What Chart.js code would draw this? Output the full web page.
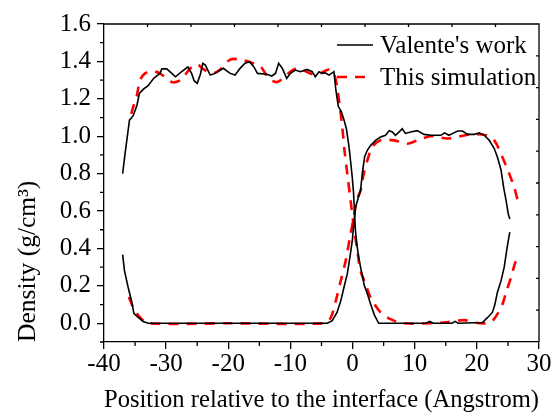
<!DOCTYPE html>
<html>
<head>
<meta charset="utf-8">
<script src="https://cdn.jsdelivr.net/npm/chart.js@4.4.1/dist/chart.umd.min.js"></script>
<style>
  html, body { margin: 0; padding: 0; background: #fff; }
  #wrap { width: 552px; height: 416px; }
</style>
</head>
<body>
<div id="wrap"><canvas id="diagram"></canvas></div>
<script>
// ---------- DATA ----------
// Valente's work, dense profile (starts high on the left, drops at the interface)
const valenteUpperX = [-37.0, -36.6, -35.9, -35.3, -34.7, -34.3, -33.7, -32.9, -32.0, -31.0, -30.7, -29.9, -29.4, -28.5, -27.5, -26.5, -25.9, -25.5, -25.0, -24.5, -24.1, -23.7, -23.3, -22.9, -22.1, -20.8, -19.7, -18.9, -18.1, -17.3, -16.6, -15.9, -15.3, -13.8, -13.0, -12.4, -11.9, -11.3, -10.6, -10.0, -9.2, -8.4, -7.3, -6.5, -6.0, -5.4, -4.9, -4.4, -3.8, -3.0, -2.7, -2.3, -1.8, -1.4, -1.0, -0.6, -0.3, -0.05, 0.15, 0.3, 0.45, 0.7, 1.0, 1.4, 1.9, 2.4, 2.9, 3.5, 4.2, 8.0, 11.8, 12.4, 13.0, 16.0, 16.5, 17.0, 20.9, 21.7, 22.5, 22.9, 23.3, 23.9, 24.4, 24.8, 25.05, 25.3];
const valenteUpperY = [0.80, 0.91, 1.086, 1.11, 1.166, 1.229, 1.25, 1.27, 1.31, 1.336, 1.36, 1.36, 1.345, 1.318, 1.345, 1.37, 1.336, 1.297, 1.283, 1.33, 1.39, 1.38, 1.354, 1.327, 1.336, 1.363, 1.336, 1.327, 1.363, 1.39, 1.398, 1.372, 1.336, 1.331, 1.322, 1.336, 1.39, 1.363, 1.309, 1.336, 1.354, 1.345, 1.357, 1.345, 1.318, 1.345, 1.336, 1.339, 1.327, 1.345, 1.25, 1.16, 1.13, 1.09, 1.04, 0.95, 0.86, 0.78, 0.70, 0.60, 0.50, 0.42, 0.35, 0.28, 0.20, 0.155, 0.103, 0.045, 0.0, 0.0, 0.0, 0.01, 0.0, 0.0, 0.01, 0.0, 0.004, 0.03, 0.058, 0.10, 0.165, 0.228, 0.30, 0.39, 0.44, 0.487];
// Valente's work, light profile (starts low on the left, rises at the interface)
const valenteLowerX = [-37.0, -36.7, -36.1, -35.5, -35.2, -34.5, -33.7, -32.9, -20.0, -4.1, -3.3, -2.5, -1.9, -1.4, -0.85, -0.43, -0.05, 0.2, 0.48, 0.9, 1.29, 1.56, 1.94, 2.37, 2.9, 3.7, 4.5, 5.3, 5.9, 6.4, 6.9, 7.5, 8.0, 8.5, 9.35, 10.4, 11.5, 12.6, 14.2, 14.8, 15.5, 16.3, 16.9, 17.7, 18.5, 19.6, 20.4, 21.2, 22.0, 22.8, 23.3, 23.9, 24.3, 24.7, 25.05, 25.3];
const valenteLowerY = [0.367, 0.28, 0.19, 0.11, 0.053, 0.031, 0.01, 0.0, 0.0, 0.0, 0.013, 0.058, 0.12, 0.19, 0.264, 0.353, 0.44, 0.53, 0.62, 0.67, 0.71, 0.80, 0.89, 0.925, 0.95, 0.978, 0.996, 1.005, 1.03, 1.023, 1.005, 1.023, 1.04, 1.015, 1.023, 1.03, 1.01, 1.005, 1.005, 1.018, 1.005, 1.018, 1.028, 1.028, 1.01, 1.01, 1.018, 1.005, 0.978, 0.934, 0.889, 0.818, 0.728, 0.657, 0.585, 0.558];
// This simulation, dense profile
const simUpperX = [-35.6, -35.3, -34.7, -34.2, -33.4, -32.3, -31.0, -29.1, -27.7, -26.1, -25.0, -24.2, -22.6, -21.3, -19.7, -18.1, -16.7, -14.8, -13.5, -12.1, -10.0, -8.9, -6.8, -5.7, -3.8, -3.0, -2.5, -2.05, -1.66, -1.3, -0.85, -0.32, 0.2, 0.76, 1.29, 2.1, 2.9, 4.5, 6.1, 8.3, 12.6, 14.7, 18.0, 19.6, 21.5, 22.5, 23.3, 24.1, 24.7, 25.5, 26.1, 26.6];
const simUpperY = [1.12, 1.157, 1.22, 1.30, 1.336, 1.348, 1.336, 1.29, 1.30, 1.363, 1.386, 1.363, 1.336, 1.357, 1.41, 1.41, 1.398, 1.372, 1.309, 1.29, 1.345, 1.363, 1.336, 1.33, 1.357, 1.336, 1.264, 1.157, 1.05, 0.925, 0.80, 0.657, 0.514, 0.39, 0.28, 0.21, 0.138, 0.058, 0.022, 0.0, 0.0, 0.004, 0.017, 0.004, 0.0, 0.013, 0.049, 0.10, 0.165, 0.246, 0.317, 0.36];
// This simulation, light profile
const simLowerX = [-36.0, -35.3, -34.2, -32.9, -20.0, -4.6, -3.5, -2.7, -1.9, -1.1, -0.43, 0.2, 0.65, 1.29, 1.8, 2.37, 3.2, 4.5, 6.7, 8.8, 10.4, 12.6, 15.3, 19.0, 21.5, 22.8, 24.1, 25.2, 26.0, 26.7];
const simLowerY = [0.14, 0.085, 0.031, 0.0, 0.0, 0.0, 0.031, 0.12, 0.228, 0.335, 0.46, 0.567, 0.657, 0.71, 0.80, 0.87, 0.943, 0.978, 0.978, 0.96, 0.978, 1.0, 0.988, 1.01, 1.005, 0.978, 0.889, 0.80, 0.728, 0.64];

// axis ticks
const xTicks = [-40, -30, -20, -10, 0, 10, 20, 30];
const xMinorTicks = [-35, -25, -15, -5, 5, 15, 25];
const yTicks = [0.0, 0.2, 0.4, 0.6, 0.8, 1.0, 1.2, 1.4, 1.6];
const yMinorTicks = [-0.1, 0.1, 0.3, 0.5, 0.7, 0.9, 1.1, 1.3, 1.5];
// top / right mirror axes have ten equal divisions
const xTopTicks = [-33, -26, -19, -12, -5, 2, 9, 16, 23];
const yRightTicks = [0.07, 0.24, 0.41, 0.58, 0.75, 0.92, 1.09, 1.26, 1.43];

const toPoints = (xs, ys) => xs.map((x, i) => ({ x, y: ys[i] }));

const SERIF = '"Liberation Serif", "Times New Roman", serif';

// draws the box, minor ticks, inner mirror ticks and the legend inside the plot
const framePlugin = {
  id: 'frame',
  afterDraw(chart) {
    const { ctx, chartArea: a, scales } = chart;
    const x = scales.x, y = scales.y;
    ctx.save();
    ctx.strokeStyle = '#000';
    ctx.lineWidth = 1.3;
    ctx.beginPath();
    // top + right border
    ctx.moveTo(a.left, a.top); ctx.lineTo(a.right, a.top); ctx.lineTo(a.right, a.bottom);
    // minor ticks (outside)
    xMinorTicks.forEach(v => { const p = x.getPixelForValue(v); ctx.moveTo(p, a.bottom); ctx.lineTo(p, a.bottom + 4); });
    yMinorTicks.forEach(v => { const p = y.getPixelForValue(v); ctx.moveTo(a.left, p); ctx.lineTo(a.left - 4, p); });
    // mirror ticks (inside)
    xTopTicks.forEach(v => { const p = x.getPixelForValue(v); ctx.moveTo(p, a.top); ctx.lineTo(p, a.top + 3); });
    yRightTicks.forEach(v => { const p = y.getPixelForValue(v); ctx.moveTo(a.right, p); ctx.lineTo(a.right - 3, p); });
    ctx.stroke();

    // LEGEND
    ctx.font = '25px ' + SERIF;
    ctx.textBaseline = 'middle';
    ctx.fillStyle = '#000';
    const legendItems = chart.data.datasets.filter(d => d.label);
    legendItems.forEach((d, i) => {
      const ly = 45 + i * 32;
      ctx.strokeStyle = d.borderColor;
      ctx.lineWidth = d.borderWidth;
      ctx.setLineDash(d.borderDash || []);
      ctx.beginPath();
      ctx.moveTo(337, ly);
      ctx.lineTo(373, ly);
      ctx.stroke();
      ctx.setLineDash([]);
      ctx.fillText(d.label, 380, ly + 1);
    });
    ctx.restore();
  },
};

const black = { borderColor: '#000', borderWidth: 1.6, tension: 0 };
const red = { borderColor: '#ff0000', borderWidth: 2.6, borderDash: [10, 8], tension: 0.3 };

new Chart(document.getElementById('diagram'), {
  type: 'scatter',
  plugins: [framePlugin],
  data: {
    datasets: [
      { label: "Valente's work", data: toPoints(valenteUpperX, valenteUpperY), ...black },
      { data: toPoints(valenteLowerX, valenteLowerY), ...black },
      { label: 'This simulation', data: toPoints(simUpperX, simUpperY), ...red },
      { data: toPoints(simLowerX, simLowerY), ...red },
    ],
  },
  options: {
    responsive: true,
    maintainAspectRatio: false,
    animation: false,
    showLine: true,
    elements: { point: { radius: 0, hoverRadius: 0 } },
    layout: { padding: { top: 24, right: 13, left: 0, bottom: 0 } },
    plugins: { legend: { display: false }, tooltip: { enabled: false } },
    scales: {
      x: {
        type: 'linear',
        min: -40,
        max: 30,
        afterBuildTicks: s => { s.ticks = xTicks.map(value => ({ value })); },
        afterFit: s => { s.height = 74; },
        border: { display: true, color: '#000', width: 1.3 },
        grid: { drawOnChartArea: false, color: '#000', lineWidth: 1.3, tickLength: 7 },
        ticks: { color: '#000', font: { family: SERIF, size: 25 }, padding: 0, maxRotation: 0 },
        title: {
          display: true,
          text: 'Position relative to the interface (Angstrom)',
          color: '#000',
          font: { family: SERIF, size: 25.5 },
          padding: { top: 0, bottom: 0 },
        },
      },
      y: {
        type: 'linear',
        min: -0.1,
        max: 1.6,
        afterBuildTicks: s => { s.ticks = yTicks.map(value => ({ value })); },
        afterFit: s => { s.width = 104; },
        border: { display: true, color: '#000', width: 1.3 },
        grid: { drawOnChartArea: false, color: '#000', lineWidth: 1.3, tickLength: 7 },
        ticks: {
          color: '#000',
          font: { family: SERIF, size: 25 },
          padding: 6,
          callback: v => v.toFixed(1),
        },
        title: {
          display: true,
          text: 'Density (g/cm³)',
          align: 'start',
          color: '#000',
          font: { family: SERIF, size: 25.5 },
          padding: { top: 13, bottom: 0 },
        },
      },
    },
  },
});
</script>
</body>
</html>
